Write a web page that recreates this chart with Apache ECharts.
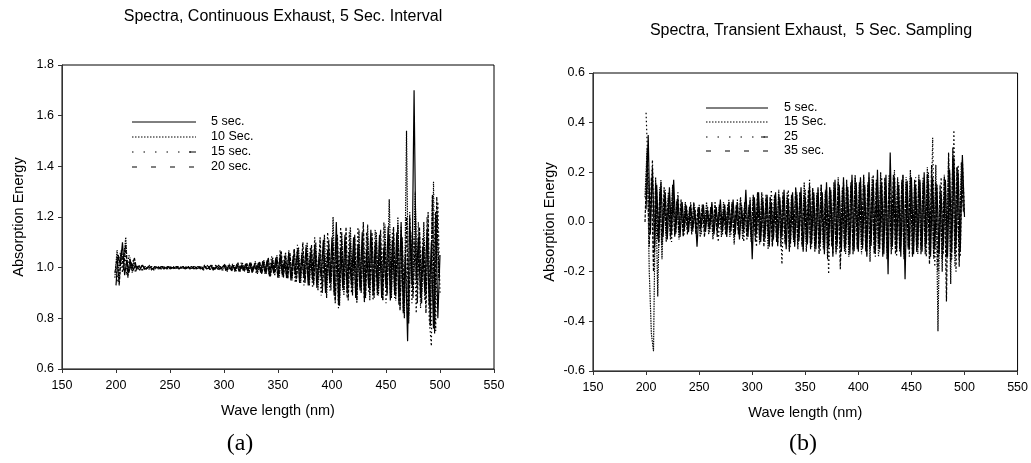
<!DOCTYPE html>
<html>
<head>
<meta charset="utf-8">
<script src="https://cdn.jsdelivr.net/npm/echarts@6/dist/echarts.min.js"></script>
<style>
html,body{margin:0;padding:0;background:#fff;}
#c{width:1031px;height:463px;}
</style>
</head>
<body>
<div id="c"></div>
<script>
// wavelengths (nm): even-nm sampling grid and odd-nm sampling grid
var wavelengthEven = [
200,202,204,206,208,210,212,214,216,218,220,222,224,226,228,230,232,234,236,238,
240,242,244,246,248,250,252,254,256,258,260,262,264,266,268,270,272,274,276,278,
280,282,284,286,288,290,292,294,296,298,300,302,304,306,308,310,312,314,316,318,
320,322,324,326,328,330,332,334,336,338,340,342,344,346,348,350,352,354,356,358,
360,362,364,366,368,370,372,374,376,378,380,382,384,386,388,390,392,394,396,398,
400,402,404,406,408,410,412,414,416,418,420,422,424,426,428,430,432,434,436,438,
440,442,444,446,448,450,452,454,456,458,460,462,464,466,468,470,472,474,476,478,
480,482,484,486,488,490,492,494,496,498,500];
var wavelengthOdd = [
199,201,203,205,207,209,211,213,215,217,219,221,223,225,227,229,231,233,235,237,
239,241,243,245,247,249,251,253,255,257,259,261,263,265,267,269,271,273,275,277,
279,281,283,285,287,289,291,293,295,297,299,301,303,305,307,309,311,313,315,317,
319,321,323,325,327,329,331,333,335,337,339,341,343,345,347,349,351,353,355,357,
359,361,363,365,367,369,371,373,375,377,379,381,383,385,387,389,391,393,395,397,
399,401,403,405,407,409,411,413,415,417,419,421,423,425,427,429,431,433,435,437,
439,441,443,445,447,449,451,453,455,457,459,461,463,465,467,469,471,473,475,477,
479,481,483,485,487,489,491,493,495,497,499];

// Panel (a): Continuous exhaust
var a_5sec = [
0.93,1.05,1.01,1.10,0.97,1.03,0.98,1.02,0.99,1.01,
1.00,0.99,1.01,1.00,0.995,1.005,1.00,0.995,1.005,1.00,
1.00,1.005,0.995,1.00,1.005,0.995,1.00,1.00,1.005,0.995,
1.00,1.005,0.995,1.00,1.00,1.005,0.995,1.00,1.005,0.995,
1.00,1.005,0.995,1.00,1.01,0.99,1.00,1.005,0.995,1.00,
1.01,0.99,1.005,0.995,1.01,0.99,1.015,0.985,1.01,0.99,
1.015,0.985,1.02,0.98,1.01,0.99,1.02,0.98,1.025,0.98,
1.03,0.97,1.02,0.98,1.04,0.96,1.05,0.97,1.03,0.96,
1.06,0.95,1.04,0.97,1.07,0.94,1.05,0.96,1.08,0.93,
1.06,0.95,1.09,0.92,1.04,0.96,1.11,0.90,1.07,0.94,
1.12,0.89,1.18,0.86,1.08,0.92,1.13,0.90,1.06,0.93,
1.12,0.88,1.09,0.91,1.14,0.87,1.07,0.92,1.15,0.89,
1.10,0.90,1.13,0.88,1.08,0.92,1.16,0.87,1.11,0.90,
1.14,0.86,1.18,0.82,1.05,0.71,1.20,0.93,1.70,0.95,
1.12,0.88,1.08,0.90,1.15,0.85,1.10,0.76,1.22,0.80,
1.05];
var a_10sec = [
0.96,1.07,0.95,1.06,1.02,1.12,0.96,1.04,0.98,1.02,
0.99,1.01,1.00,0.99,1.005,0.995,1.01,0.99,1.00,1.005,
0.995,1.00,1.005,0.995,1.00,1.005,0.995,1.00,0.995,1.005,
0.995,1.00,1.005,0.995,1.005,0.995,1.00,1.005,0.995,1.00,
1.005,0.995,1.00,1.01,0.99,1.005,0.995,1.01,0.99,1.005,
0.99,1.01,0.985,1.015,0.99,1.01,0.985,1.015,0.99,1.02,
0.985,1.015,0.98,1.02,0.985,1.025,0.975,1.02,0.98,1.03,
0.975,1.035,0.97,1.04,0.98,1.05,0.96,1.04,0.97,1.06,
0.96,1.05,0.95,1.07,0.96,1.08,0.94,1.06,0.95,1.10,
0.93,1.07,0.94,1.10,0.91,1.06,0.92,1.13,0.88,1.09,
0.91,1.20,0.87,1.10,0.85,1.14,0.89,1.09,0.92,1.16,
0.89,1.12,0.86,1.15,0.90,1.10,0.88,1.17,0.87,1.12,
0.91,1.14,0.89,1.10,0.87,1.17,0.90,1.27,0.88,1.13,
0.87,1.20,0.84,1.10,0.80,1.54,0.78,1.10,0.90,1.30,
0.92,1.14,0.86,1.18,0.89,1.12,0.78,1.28,0.74,1.20,
0.95];
var a_15sec = [
1.00,0.94,1.06,0.98,1.08,0.97,1.05,0.99,1.03,0.98,
1.01,1.00,0.99,1.005,1.00,0.99,1.005,1.00,0.995,1.00,
1.005,0.995,1.00,1.005,0.995,1.00,1.005,0.995,1.00,1.005,
1.00,0.995,1.005,1.00,0.995,1.00,1.005,0.995,1.00,1.005,
0.995,1.01,0.995,1.00,1.005,0.99,1.01,0.995,1.005,0.99,
1.005,0.985,1.01,0.99,1.015,0.985,1.01,0.99,1.02,0.985,
1.01,0.98,1.02,0.985,1.015,0.975,1.02,0.985,1.03,0.975,
1.03,0.965,1.045,0.975,1.03,0.96,1.07,0.965,1.05,0.955,
1.07,0.96,1.05,0.94,1.09,0.95,1.06,0.93,1.09,0.95,
1.08,0.92,1.12,0.94,1.06,0.89,1.10,0.93,1.14,0.91,
1.09,0.90,1.12,0.84,1.16,0.91,1.08,0.88,1.14,0.90,
1.09,0.88,1.16,0.92,1.11,0.86,1.14,0.90,1.09,0.87,
1.15,0.89,1.12,0.91,1.18,0.86,1.11,0.90,1.15,0.88,
1.12,0.85,1.16,0.83,1.08,0.80,1.22,0.86,1.12,0.82,
1.18,0.84,1.12,0.87,1.20,0.80,0.69,1.34,0.75,1.26,
0.90];
var a_20sec = [
0.98,1.04,0.93,1.07,0.99,1.09,0.97,1.03,1.00,1.04,
0.995,1.005,1.00,1.01,0.99,1.00,1.00,1.005,0.99,1.00,
1.00,0.995,1.005,1.00,0.995,1.005,1.00,1.005,0.995,1.00,
1.005,1.00,0.995,1.005,1.00,0.995,1.00,1.005,0.995,1.00,
1.00,0.99,1.005,1.00,0.995,1.01,0.99,1.00,1.01,0.995,
1.00,1.015,0.99,1.01,0.985,1.01,0.99,1.02,0.985,1.01,
0.99,1.02,0.98,1.015,0.99,1.02,0.985,1.025,0.975,1.02,
0.98,1.04,0.965,1.03,0.97,1.04,0.975,1.065,0.96,1.045,
0.955,1.06,0.96,1.075,0.945,1.04,0.96,1.10,0.94,1.06,
0.95,1.09,0.93,1.07,0.95,1.12,0.90,1.05,0.92,1.11,
0.94,1.10,0.86,1.13,0.88,1.11,0.91,1.16,0.87,1.10,
0.92,1.13,0.87,1.09,0.91,1.18,0.88,1.12,0.90,1.14,
0.88,1.11,0.92,1.15,0.87,1.10,0.89,1.13,0.91,1.16,
0.89,1.17,0.83,1.12,0.86,1.20,0.81,1.14,0.88,1.10,
0.86,1.16,0.90,1.11,0.82,1.22,0.77,1.29,0.78,1.28,
0.96];

// Panel (b): Transient exhaust
var b_5sec = [
0.05,0.35,-0.05,0.22,-0.10,0.15,-0.08,0.16,-0.06,0.12,
-0.07,0.14,-0.05,0.17,-0.04,0.10,-0.06,0.08,-0.03,0.06,
-0.04,0.07,-0.03,0.05,-0.10,0.06,-0.02,0.07,-0.04,0.05,
-0.03,0.08,-0.05,0.06,-0.02,0.09,-0.04,0.07,-0.06,0.08,
-0.03,0.09,-0.05,0.08,-0.07,0.06,-0.04,0.13,-0.06,0.09,
-0.15,0.10,-0.05,0.12,-0.08,0.09,-0.06,0.11,-0.10,0.08,
-0.07,0.12,-0.09,0.10,-0.06,0.13,-0.11,0.09,-0.08,0.12,
-0.10,0.11,-0.07,0.14,-0.12,0.10,-0.09,0.15,-0.08,0.12,
-0.11,0.14,-0.09,0.12,-0.13,0.16,-0.10,0.13,-0.14,0.17,
-0.09,0.15,-0.12,0.18,-0.10,0.14,-0.13,0.19,-0.11,0.16,
-0.12,0.18,-0.10,0.15,-0.14,0.20,-0.09,0.17,-0.12,0.21,
-0.11,0.16,-0.13,0.19,-0.21,0.28,-0.10,0.18,-0.12,0.15,
-0.14,0.19,-0.23,0.16,-0.11,0.18,-0.13,0.15,-0.10,0.17,
-0.12,0.20,-0.09,0.16,-0.14,0.18,-0.11,0.15,-0.13,0.12,
-0.10,0.17,-0.14,0.21,-0.12,0.26,-0.10,0.20,-0.12,0.27,
0.02];
var b_15sec = [
0.10,0.30,-0.20,-0.45,-0.52,0.18,-0.30,0.14,-0.15,0.10,
-0.08,0.12,-0.06,0.15,-0.05,0.09,-0.07,0.07,-0.05,0.08,
-0.03,0.06,-0.05,0.07,-0.04,0.05,-0.06,0.06,-0.03,0.08,
-0.05,0.06,-0.07,0.05,-0.04,0.07,-0.06,0.08,-0.03,0.06,
-0.06,0.07,-0.09,0.06,-0.04,0.10,-0.07,0.08,-0.05,0.07,
-0.08,0.11,-0.06,0.10,-0.09,0.12,-0.07,0.09,-0.11,0.10,
-0.09,0.11,-0.07,0.13,-0.10,0.10,-0.08,0.12,-0.12,0.11,
-0.08,0.13,-0.11,0.12,-0.09,0.16,-0.12,0.11,-0.10,0.13,
-0.12,0.12,-0.10,0.15,-0.11,0.13,-0.15,0.14,-0.09,0.16,
-0.13,0.18,-0.10,0.14,-0.12,0.17,-0.14,0.15,-0.11,0.19,
-0.10,0.16,-0.13,0.19,-0.11,0.15,-0.16,0.18,-0.12,0.16,
-0.14,0.20,-0.12,0.17,-0.15,0.19,-0.13,0.16,-0.10,0.18,
-0.12,0.16,-0.15,0.18,-0.11,0.21,-0.13,0.17,-0.12,0.19,
-0.10,0.18,-0.13,0.22,-0.12,0.16,-0.15,0.23,-0.44,0.12,
-0.20,0.19,-0.14,0.25,-0.25,0.30,-0.18,0.22,-0.15,0.24,
0.05];
var b_25sec = [
0.44,0.20,0.00,0.25,-0.12,0.13,-0.10,0.17,-0.04,0.13,
-0.06,0.11,-0.08,0.09,-0.05,0.12,-0.04,0.06,-0.05,0.07,
-0.02,0.08,-0.04,0.06,-0.03,0.07,-0.05,0.05,-0.02,0.06,
-0.04,0.07,-0.03,0.06,-0.08,0.05,-0.05,0.07,-0.04,0.09,
-0.05,0.06,-0.03,0.09,-0.06,0.07,-0.08,0.06,-0.04,0.10,
-0.07,0.09,-0.10,0.08,-0.06,0.11,-0.08,0.10,-0.09,0.13,
-0.06,0.10,-0.10,0.09,-0.17,0.11,-0.07,0.13,-0.10,0.10,
-0.09,0.12,-0.08,0.10,-0.11,0.13,-0.07,0.17,-0.10,0.11,
-0.09,0.13,-0.12,0.11,-0.10,0.14,-0.21,0.12,-0.13,0.15,
-0.11,0.13,-0.09,0.16,-0.13,0.14,-0.10,0.17,-0.12,0.14,
-0.09,0.17,-0.11,0.14,-0.13,0.18,-0.10,0.19,-0.14,0.15,
-0.12,0.18,-0.10,0.15,-0.13,0.17,-0.11,0.21,-0.14,0.16,
-0.10,0.19,-0.12,0.17,-0.14,0.15,-0.11,0.18,-0.13,0.16,
-0.11,0.17,-0.14,0.20,-0.12,0.34,-0.18,0.15,-0.12,0.18,
-0.13,0.16,-0.10,0.20,-0.15,0.37,-0.20,0.23,-0.14,0.25,
0.03];
var b_35sec = [
0.00,0.28,-0.10,0.18,-0.20,0.16,-0.07,0.12,-0.09,0.14,
-0.05,0.10,-0.07,0.13,-0.06,0.08,-0.04,0.09,-0.06,0.07,
-0.05,0.05,-0.03,0.08,-0.05,0.06,-0.03,0.07,-0.06,0.05,
-0.02,0.06,-0.04,0.08,-0.06,0.06,-0.03,0.05,-0.05,0.07,
-0.04,0.08,-0.06,0.07,-0.05,0.09,-0.03,0.08,-0.07,0.06,
-0.06,0.10,-0.08,0.12,-0.07,0.09,-0.10,0.11,-0.06,0.10,
-0.10,0.09,-0.08,0.11,-0.06,0.12,-0.09,0.10,-0.11,0.09,
-0.07,0.14,-0.09,0.12,-0.10,0.11,-0.08,0.13,-0.11,0.14,
-0.10,0.11,-0.13,0.15,-0.08,0.12,-0.11,0.14,-0.10,0.13,
-0.12,0.16,-0.19,0.13,-0.11,0.15,-0.09,0.16,-0.13,0.18,
-0.11,0.15,-0.09,0.18,-0.12,0.16,-0.11,0.14,-0.13,0.17,
-0.10,0.15,-0.14,0.18,-0.12,0.16,-0.10,0.19,-0.13,0.15,
-0.11,0.17,-0.13,0.16,-0.10,0.18,-0.14,0.15,-0.12,0.17,
-0.13,0.16,-0.10,0.19,-0.17,0.23,-0.14,0.16,-0.20,0.15,
-0.15,0.18,-0.32,0.28,-0.16,0.26,-0.13,0.22,-0.18,0.19,
0.04];

var namesA = ['5 sec.', '10 Sec.', '15 sec.', '20 sec.'];
var namesB = ['5 sec.', '15 Sec.', '25', '35 sec.'];
var xTicks = [150, 200, 250, 300, 350, 400, 450, 500, 550];
var yTicksA = [0.6, 0.8, 1.0, 1.2, 1.4, 1.6, 1.8];
var yTicksB = [-0.6, -0.4, -0.2, 0.0, 0.2, 0.4, 0.6];

var dashes = ['solid', [1.5, 1], [1.5, 2.5], [3, 1.5]];
var legendDash = [null, [1.5, 1.5], [1.5, 10], [5, 14]];
// series 1 & 3 sampled on even nm, series 2 & 4 on odd nm
var grids = [wavelengthEven, wavelengthOdd, wavelengthEven, wavelengthOdd];

function pairs(xs, ys) {
  return ys.map(function (y, i) { return [xs[i], y]; });
}

var FONT = 'Liberation Sans, Arial, sans-serif';

function makeX(idx) {
  return {
    type: 'value', gridIndex: idx, min: xTicks[0], max: xTicks[xTicks.length - 1], interval: 50,
    name: 'Wave length (nm)', nameLocation: 'middle', nameGap: 34,
    nameTextStyle: { fontFamily: FONT, fontSize: 14.5, color: '#000' },
    axisLine: { show: true, onZero: false, lineStyle: { color: '#333', width: 1 } },
    axisTick: { show: true, inside: false, length: 4, lineStyle: { color: '#333' } },
    axisLabel: { fontFamily: FONT, fontSize: 12.5, color: '#000', margin: 10 },
    splitLine: { show: false }
  };
}
function makeY(idx, ticks) {
  return {
    type: 'value', gridIndex: idx, min: ticks[0], max: ticks[ticks.length - 1], interval: 0.2,
    name: 'Absorption Energy', nameLocation: 'middle', nameGap: 36,
    nameTextStyle: { fontFamily: FONT, fontSize: 14.5, color: '#000' },
    axisLine: { show: true, onZero: false, lineStyle: { color: '#333', width: 1 } },
    axisTick: { show: true, inside: false, length: 4, lineStyle: { color: '#333' } },
    axisLabel: { fontFamily: FONT, fontSize: 12.5, color: '#000', margin: 8,
      formatter: function (v) { return v.toFixed(1); } },
    splitLine: { show: false }
  };
}

var seriesA = [a_5sec, a_10sec, a_15sec, a_20sec];
var seriesB = [b_5sec, b_15sec, b_25sec, b_35sec];
var series = [];
seriesA.forEach(function (d, i) {
  series.push({ type: 'line', name: namesA[i], xAxisIndex: 0, yAxisIndex: 0, data: pairs(grids[i], d),
    showSymbol: false, symbol: 'none', sampling: null, silent: true,
    lineStyle: { color: '#000', width: 1.2, type: dashes[i] } });
});
seriesB.forEach(function (d, i) {
  series.push({ type: 'line', name: namesB[i], xAxisIndex: 1, yAxisIndex: 1, data: pairs(grids[i], d),
    showSymbol: false, symbol: 'none', sampling: null, silent: true,
    lineStyle: { color: '#000', width: 1.2, type: dashes[i] } });
});

function legendGraphics(names, x1, x2, tx, ys) {
  var g = [];
  names.forEach(function (n, i) {
    g.push({ type: 'line', shape: { x1: x1, y1: ys[i], x2: x2, y2: ys[i] },
      style: { stroke: '#000', lineWidth: 1, lineDash: legendDash[i] } });
    if (i === 2) {
      g.push({ type: 'line', shape: { x1: x2 - 7, y1: ys[i], x2: x2, y2: ys[i] },
        style: { stroke: '#000', lineWidth: 1 } });
    }
    g.push({ type: 'text', x: tx, y: ys[i],
      style: { text: n, font: '12.5px ' + FONT, fill: '#000', textVerticalAlign: 'middle', textAlign: 'left' } });
  });
  return g;
}

var graphics = []
  .concat(legendGraphics(namesA, 132, 196, 211, [122, 137, 152, 167]))
  .concat(legendGraphics(namesB, 706, 768, 784, [108, 122, 137, 151]))
  .concat([
    { type: 'text', x: 240, y: 444, style: { text: '(a)', font: '24px Liberation Serif, Times New Roman, serif', fill: '#000', textAlign: 'center', textVerticalAlign: 'middle' } },
    { type: 'text', x: 803, y: 444, style: { text: '(b)', font: '24px Liberation Serif, Times New Roman, serif', fill: '#000', textAlign: 'center', textVerticalAlign: 'middle' } }
  ]);

var chart = echarts.init(document.getElementById('c'), null, { renderer: 'canvas' });
chart.setOption({
  animation: false,
  backgroundColor: '#fff',
  title: [
    { text: 'Spectra, Continuous Exhaust, 5 Sec. Interval', left: 278, top: 4, textAlign: 'center',
      textStyle: { fontFamily: FONT, fontSize: 16, fontWeight: 'normal', color: '#000' } },
    { text: 'Spectra, Transient Exhaust,  5 Sec. Sampling', left: 806, top: 18, textAlign: 'center',
      textStyle: { fontFamily: FONT, fontSize: 16, fontWeight: 'normal', color: '#000' } }
  ],
  grid: [
    { left: 62, top: 65, width: 432, height: 304, show: true, borderColor: '#000', borderWidth: 1, backgroundColor: 'transparent' },
    { left: 593, top: 73, width: 425, height: 298, show: true, borderColor: '#000', borderWidth: 1, backgroundColor: 'transparent' }
  ],
  xAxis: [makeX(0), makeX(1)],
  yAxis: [makeY(0, yTicksA), makeY(1, yTicksB)],
  series: series,
  graphic: graphics
});
</script>
</body>
</html>
